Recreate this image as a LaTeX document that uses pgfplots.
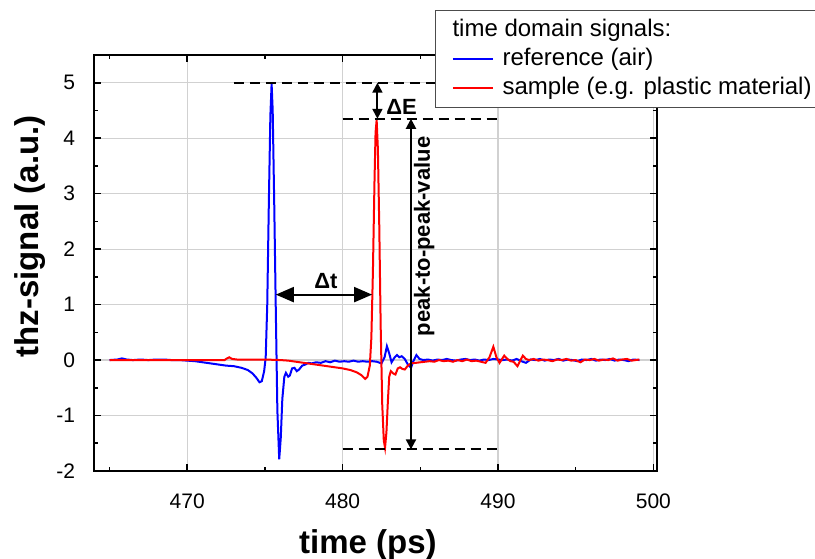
\documentclass[border=0pt]{standalone}
\usepackage{pgfplots}
\pgfplotsset{compat=1.18}
\usepackage{fontspec}
\setmainfont{Liberation Sans}
\usetikzlibrary{arrows.meta}

% reference pulse (air)
\pgfplotstableread{
x y
465.0 0.00
465.5 0.01
465.8 0.03
466.1 0.01
466.5 0.00
467.0 0.01
467.5 0.00
468.0 0.01
468.5 0.01
469.0 0.00
469.5 0.00
470.0 -0.01
470.5 -0.02
471.0 -0.04
471.5 -0.06
472.0 -0.08
472.5 -0.10
473.0 -0.11
473.5 -0.14
473.9 -0.18
474.2 -0.24
474.45 -0.32
474.65 -0.40
474.8 -0.38
474.95 -0.20
475.05 0.05
475.15 1.0
475.25 2.8
475.35 4.4
475.43 4.98
475.5 4.5
475.6 2.8
475.7 0.9
475.8 -0.9
475.92 -1.79
476.02 -1.4
476.12 -0.7
476.25 -0.30
476.35 -0.23
476.5 -0.30
476.6 -0.28
476.75 -0.15
476.9 -0.14
477.05 -0.20
477.2 -0.17
477.4 -0.10
477.6 -0.08
477.8 -0.05
478.0 -0.06
478.3 -0.04
478.6 -0.05
478.9 -0.02
479.2 -0.04
479.5 -0.01
479.8 -0.03
480.1 -0.02
480.4 -0.03
480.7 -0.01
481.0 -0.03
481.3 -0.02
481.6 -0.03
481.9 -0.02
482.2 -0.03
482.5 -0.06
482.7 0.05
482.85 0.25
483.0 0.12
483.15 -0.04
483.35 0.05
483.5 0.09
483.65 0.05
483.8 0.07
484.0 0.02
484.2 -0.08
484.4 -0.14
484.55 -0.02
484.75 0.09
484.95 0.02
485.2 0.00
485.5 0.01
485.8 -0.01
486.1 0.01
486.4 0.00
486.7 0.02
487.0 0.00
487.3 -0.01
487.6 0.01
487.9 0.02
488.2 0.00
488.5 0.01
488.8 -0.01
489.1 0.01
489.4 0.00
489.7 0.02
490.0 0.01
490.3 0.00
490.6 0.01
490.9 -0.01
491.2 0.02
491.5 -0.02
491.8 -0.05
492.1 0.01
492.4 0.00
492.7 0.02
493.0 -0.01
493.3 0.01
493.6 0.00
493.9 0.02
494.2 -0.01
494.5 0.01
494.8 0.00
495.1 -0.02
495.4 0.01
495.7 0.00
496.0 0.02
496.3 -0.01
496.6 0.01
496.9 0.00
497.2 0.02
497.5 -0.01
497.8 0.01
498.1 0.00
498.4 -0.02
498.7 0.01
499.1 0.00
}\refdata

% sample pulse
\pgfplotstableread{
x y
465.0 0.00
466.0 0.00
467.0 0.00
468.0 0.00
469.0 0.00
470.0 0.00
471.0 0.00
472.0 0.00
472.4 0.00
472.5 0.02
472.7 0.05
472.9 0.02
473.2 0.01
474.0 0.01
475.0 0.01
476.0 0.00
476.5 -0.01
477.0 -0.03
477.5 -0.05
478.0 -0.07
478.5 -0.09
479.0 -0.11
479.5 -0.13
480.0 -0.15
480.5 -0.18
480.9 -0.22
481.2 -0.27
481.45 -0.34
481.6 -0.30
481.75 -0.10
481.85 0.4
481.95 1.6
482.05 3.2
482.12 4.1
482.19 4.33
482.27 3.8
482.36 2.4
482.45 0.6
482.55 -0.8
482.65 -1.45
482.73 -1.58
482.82 -1.3
482.92 -0.7
483.0 -0.30
483.1 -0.20
483.25 -0.24
483.4 -0.26
483.55 -0.15
483.7 -0.13
483.85 -0.16
484.0 -0.17
484.2 -0.10
484.4 -0.06
484.7 -0.05
485.0 -0.04
485.3 -0.03
485.6 -0.02
485.9 -0.03
486.2 0.00
486.5 -0.02
486.8 -0.01
487.1 -0.03
487.4 0.00
487.7 -0.02
488.0 0.01
488.3 -0.02
488.6 -0.01
488.9 -0.03
489.2 -0.05
489.45 0.05
489.7 0.24
489.9 0.05
490.1 -0.05
490.4 0.08
490.6 0.02
490.8 -0.02
491.0 -0.03
491.25 -0.11
491.45 0.00
491.6 0.08
491.8 0.02
492.0 0.00
492.3 0.02
492.6 -0.01
492.9 0.01
493.2 0.00
493.5 -0.02
493.8 0.01
494.1 0.00
494.4 0.02
494.7 -0.01
495.0 0.00
495.3 -0.04
495.6 0.01
495.9 0.00
496.2 0.02
496.5 -0.01
496.8 0.01
497.1 0.00
497.4 0.03
497.7 -0.01
498.0 0.01
498.3 0.02
498.6 -0.01
499.1 0.01
}\sampledata

\begin{document}
\begin{tikzpicture}
\path[use as bounding box] (-47pt,-43.5pt) rectangle (360.5pt,235.5pt);
\begin{axis}[
  at={(0,0)}, anchor=south west,
  scale only axis, width=281.25pt, height=208pt,
  xmin=464, xmax=500.2, ymin=-2, ymax=5.5,
  xtick={470,480,490,500}, minor xtick={465,475,485,495},
  ytick={-2,-1,0,1,2,3,4,5}, minor ytick={-1.5,-0.5,0.5,1.5,2.5,3.5,4.5,5.5},
  grid=major, major grid style={black!18, line width=0.6pt},
  axis line style={line width=1pt},
  major tick length=3.5pt, minor tick length=2pt,
  tick style={black, line width=0.8pt},
  tick label style={font=\fontsize{10.5}{12}\selectfont},
  /pgf/number format/assume math mode=true,
  /pgf/number format/1000 sep={},
  yticklabel style={xshift=-6pt},
  xticklabel style={yshift=-8pt},
  xlabel={time (ps)}, ylabel={thz-signal (a.u.)},
  label style={font=\bfseries\fontsize{16.5}{18}\selectfont},
  xlabel style={at={(axis description cs:0.487,-0.1995)}, anchor=base},
  ylabel style={at={(axis description cs:-0.1138,0.564)}, anchor=center},
  legend style={at={(rel axis cs:0.606,1.108)}, anchor=north west,
    draw=black!70, line width=0.5pt, fill=white,
    font=\fontsize{12}{14}\selectfont, inner xsep=8.5pt, inner ysep=2.5pt,
    nodes={inner xsep=4.5pt, inner ysep=1pt, text height=9.5pt, text depth=3pt}},
  legend cell align=left,
  legend image code/.code={\draw[#1, line width=0.6pt] (0pt,0pt) -- (20pt,0pt);},
]
\addlegendimage{empty legend}
\addlegendentry{\hspace*{-25pt}time domain signals:}
\addplot[blue, line width=1pt, mark=none] table[x=x, y=y] {\refdata};
\addlegendentry{reference (air)}
\addplot[red, line width=1pt, mark=none] table[x=x, y=y] {\sampledata};
\addlegendentry{sample (e.g. plastic material)}

% annotations
\draw[black, line width=1pt, dash pattern=on 5pt off 3pt] (473,5) -- (490,5);
\draw[black, line width=1pt, dash pattern=on 5pt off 3pt] (480,4.35) -- (490,4.35);
\draw[black, line width=1pt, dash pattern=on 5pt off 3pt] (480,-1.61) -- (490,-1.61);
\draw[black, line width=1pt, {Triangle[length=5pt,width=5pt]}-{Triangle[length=5pt,width=5pt]}] (482.24,5) -- (482.24,4.35);
\node[font=\bfseries\fontsize{11}{12}\selectfont, inner sep=0pt] at (483.8,4.57) {ΔE};
\draw[black, line width=1pt, {Triangle[length=5pt,width=5pt]}-{Triangle[length=5pt,width=5pt]}] (484.4,4.35) -- (484.4,-1.61);
\node[rotate=90, font=\bfseries\fontsize{11}{12}\selectfont] at (485.25,2.23) {peak-to-peak-value};
\draw[black, line width=1pt, {Triangle[length=9pt,width=7.5pt]}-{Triangle[length=9pt,width=7.5pt]}] (475.7,1.18) -- (481.9,1.18);
\node[font=\bfseries\fontsize{11}{12}\selectfont, inner sep=0pt] at (478.93,1.43) {Δt};
\end{axis}
\end{tikzpicture}
\end{document}
